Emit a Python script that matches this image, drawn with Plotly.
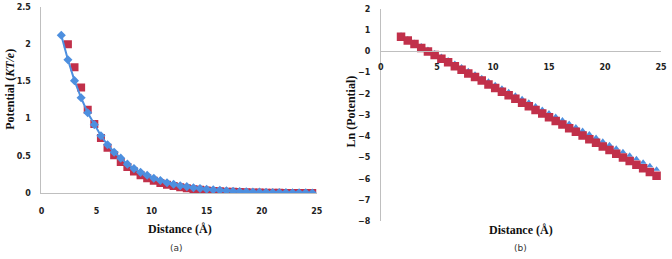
import plotly.graph_objects as go

# Distances (Å)
distance = [1.8, 2.4, 3.0, 3.6, 4.2, 4.8, 5.4, 6.0, 6.6, 7.2, 7.8, 8.4, 9.0, 9.6, 10.2,
            10.8, 11.4, 12.0, 12.6, 13.2, 13.8, 14.4, 15.0, 15.6, 16.2, 16.8, 17.4, 18.0,
            18.6, 19.2, 19.8, 20.4, 21.0, 21.6, 22.2, 22.8, 23.4, 24.0, 24.6]

# Panel (a): potential (KT/e)
pot_blue = [2.12, 1.79, 1.51, 1.28, 1.08, 0.92, 0.77, 0.65, 0.55, 0.47, 0.39, 0.33, 0.28,
            0.24, 0.20, 0.17, 0.14, 0.12, 0.10, 0.088, 0.074, 0.063, 0.053, 0.045, 0.038,
            0.032, 0.027, 0.023, 0.019, 0.016, 0.014, 0.012, 0.010, 0.0084, 0.0071, 0.0060,
            0.0051, 0.0043, 0.0036]
pot_red_x = distance[1:]
pot_red = [2.00, 1.69, 1.42, 1.12, 0.93, 0.74, 0.61, 0.51, 0.42, 0.35, 0.29, 0.24, 0.20,
           0.166, 0.138, 0.114, 0.095, 0.079, 0.065, 0.054, 0.045, 0.037, 0.031, 0.026,
           0.021, 0.018, 0.015, 0.012, 0.010, 0.0085, 0.007, 0.0058, 0.0048, 0.004, 0.0033,
           0.0028, 0.0023, 0.0019]

# Panel (b): Ln(potential)
ln_red = [0.68, 0.51, 0.34, 0.16, -0.01, -0.18, -0.35, -0.52, -0.70, -0.87, -1.04, -1.21,
          -1.38, -1.56, -1.73, -1.90, -2.07, -2.24, -2.42, -2.59, -2.76, -2.93, -3.10, -3.28,
          -3.45, -3.62, -3.79, -3.96, -4.14, -4.31, -4.48, -4.65, -4.82, -5.00, -5.17, -5.34,
          -5.51, -5.68, -5.86]
ln_blue = [0.75, 0.58, 0.42, 0.25, 0.09, -0.08, -0.25, -0.41, -0.58, -0.74, -0.91, -1.08,
           -1.24, -1.41, -1.57, -1.74, -1.91, -2.07, -2.24, -2.40, -2.57, -2.74, -2.90, -3.07,
           -3.23, -3.40, -3.57, -3.73, -3.90, -4.06, -4.23, -4.40, -4.56, -4.73, -4.89, -5.06,
           -5.23, -5.39, -5.56]

RED = "#c1304a"
BLUE = "#4d8fdf"
W, H = 672, 259

def px_x(p):
    return p / W

def px_y(p):
    return 1 - p / H

fig = go.Figure()
fig.add_trace(go.Scatter(x=pot_red_x, y=pot_red, mode="markers",
                         marker=dict(symbol="square", size=8, color=RED),
                         xaxis="x", yaxis="y", showlegend=False))
fig.add_trace(go.Scatter(x=distance, y=pot_blue, mode="lines+markers",
                         line=dict(color=BLUE, width=2),
                         marker=dict(symbol="diamond", size=7, color=BLUE),
                         xaxis="x", yaxis="y", showlegend=False))
fig.add_trace(go.Scatter(x=distance, y=ln_blue, mode="markers",
                         marker=dict(symbol="triangle-up", size=6, color=BLUE),
                         xaxis="x2", yaxis="y2", showlegend=False))
fig.add_trace(go.Scatter(x=distance, y=ln_red, mode="markers",
                         marker=dict(symbol="square", size=8.5, color=RED),
                         xaxis="x2", yaxis="y2", showlegend=False))

tickfont = dict(family="DejaVu Sans", size=8, color="#222222", weight="bold")
titlefont = dict(family="Liberation Serif", size=12, color="#111111", weight="bold")
axcol = "#bfbfbf"

fig.update_layout(
    width=W, height=H, margin=dict(l=0, r=0, t=0, b=0),
    paper_bgcolor="white", plot_bgcolor="white",
    xaxis=dict(domain=[px_x(39), px_x(318)], range=[0, 25], dtick=5, anchor="y",
               showgrid=False, zeroline=False, showline=True, linecolor=axcol, linewidth=1,
               ticks="", tickfont=tickfont, ticklabelstandoff=10),
    yaxis=dict(domain=[px_y(196), px_y(3)], range=[0, 2.5], dtick=0.5, anchor="x",
               showgrid=False, zeroline=False, showline=True, linecolor=axcol, linewidth=1,
               ticks="", tickfont=tickfont, ticklabelstandoff=8),
    xaxis2=dict(domain=[px_x(383), px_x(667)], range=[0, 25], dtick=5, anchor="free",
                position=px_y(49), side="bottom",
                showgrid=False, zeroline=False, showline=True, linecolor=axcol, linewidth=1,
                ticks="", tickfont=tickfont, ticklabelstandoff=8),
    yaxis2=dict(domain=[px_y(225), px_y(5)], range=[-8, 2], dtick=1, anchor="x2",
                showgrid=False, zeroline=False, showline=True, linecolor=axcol, linewidth=1,
                ticks="", tickfont=tickfont, ticklabelstandoff=8),
)

annots = [
    dict(text="Distance (Å)", x=px_x(179), y=px_y(233), font=titlefont),
    dict(text="Distance (Å)", x=px_x(525), y=px_y(234), font=titlefont),
    dict(text="Potential (<i>KT/e</i>)", x=px_x(7), y=px_y(88), textangle=-90, font=titlefont),
    dict(text="Ln (Potential)", x=px_x(353), y=px_y(111), textangle=-90, font=titlefont),
    dict(text="(a)", x=px_x(176), y=px_y(253), font=dict(family="DejaVu Sans", size=9, color="#333")),
    dict(text="(b)", x=px_x(525), y=px_y(253), font=dict(family="DejaVu Sans", size=9, color="#333")),
]
for a in annots:
    fig.add_annotation(xref="paper", yref="paper", showarrow=False,
                       xanchor="center", yanchor="middle", **a)

fig.write_html("out.html", config={"displayModeBar": False},
               post_script="document.body.style.margin='0';document.body.style.overflow='hidden';")
